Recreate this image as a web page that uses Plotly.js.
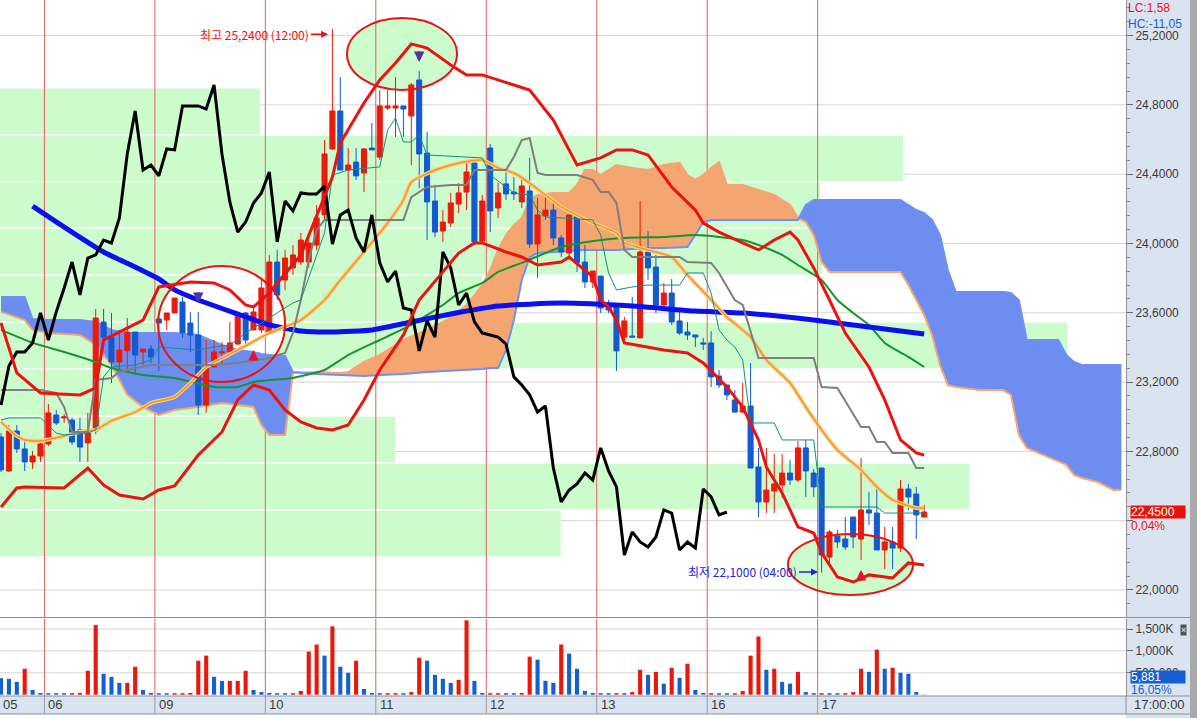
<!DOCTYPE html>
<html><head><meta charset="utf-8">
<script src="https://cdn.plot.ly/plotly-3.0.1.min.js"></script>
<style>html,body{margin:0;padding:0;background:#fff;overflow:hidden}#chart{width:1197px;height:718px}</style>
</head><body><div id="chart"></div>
<script>
// ---------------- DATA ----------------
const firstDayLabel = '05';
const dayLabels = ['06','09','10','11','12','13','16','17'];
const dayStart  = [6,20,34,48,62,76,90,104];
const lastTime = '17:00:00';

const openP  = [22.883,22.687,22.918,22.814,22.739,22.773,22.843,23.010,22.993,22.981,22.924,22.849,22.918,23.547,23.460,23.316,23.380,23.489,23.374,23.391,
23.564,23.558,23.599,23.662,23.541,23.472,23.068,23.287,23.368,23.374,23.420,23.599,23.501,23.501,23.489,23.893,23.789,23.859,23.893,23.893,
23.991,24.165,24.546,24.765,24.424,24.470,24.407,24.551,24.499,24.782,24.782,24.794,24.736,24.944,24.522,24.245,24.072,24.118,24.228,24.297,
24.465,24.014,24.551,24.205,24.344,24.297,24.240,24.303,23.997,24.159,24.193,24.032,23.945,24.165,23.893,23.778,23.812,23.634,23.634,23.460,
23.466,23.455,23.951,23.864,23.645,23.714,23.553,23.489,23.472,23.426,23.426,23.235,23.183,23.097,23.027,23.062,22.710,22.508,22.571,22.606,
22.675,22.635,22.820,22.675,22.704,22.190,22.312,22.294,22.421,22.294,22.462,22.444,22.231,22.277,22.242,22.583,22.554,22.421];
const highP  = [22.906,22.952,22.952,22.860,22.802,22.872,23.074,23.039,23.016,22.993,22.993,23.022,23.622,23.622,23.599,23.501,23.570,23.489,23.391,23.414,
23.576,23.599,23.685,23.691,23.605,23.605,23.443,23.443,23.431,23.547,23.605,23.605,23.645,23.789,23.934,23.963,23.963,23.991,24.061,24.038,
24.222,24.597,25.240,24.961,24.551,24.551,24.551,24.696,24.886,24.886,24.961,24.794,24.926,24.996,24.644,24.338,24.193,24.292,24.349,24.482,
24.482,24.280,24.574,24.349,24.424,24.384,24.384,24.494,24.263,24.286,24.234,24.049,24.165,24.165,23.991,23.841,23.812,23.674,23.634,23.576,
23.691,24.245,24.072,23.934,23.772,23.795,23.616,23.547,23.472,23.455,23.495,23.270,23.183,23.154,23.195,23.310,22.820,22.820,22.785,22.785,
22.750,22.860,22.866,22.698,22.704,22.346,22.346,22.421,22.421,22.762,22.566,22.606,22.364,22.364,22.635,22.612,22.595,22.491];
const lowP   = [22.681,22.681,22.791,22.687,22.698,22.739,22.831,22.952,22.964,22.837,22.739,22.739,22.900,23.414,23.195,23.270,23.270,23.241,23.299,23.310,
23.264,23.501,23.599,23.455,23.374,23.010,23.022,23.287,23.299,23.374,23.414,23.414,23.501,23.483,23.472,23.674,23.732,23.818,23.876,23.859,
23.963,24.136,24.540,24.424,24.193,24.367,24.297,24.540,24.482,24.771,24.615,24.615,24.453,24.320,24.020,24.038,24.009,24.095,24.176,24.193,
23.991,24.009,24.066,24.147,24.251,24.251,24.205,23.974,23.801,24.136,23.991,23.922,23.905,23.836,23.743,23.743,23.599,23.599,23.264,23.443,
23.460,23.455,23.789,23.599,23.634,23.530,23.472,23.443,23.403,23.385,23.172,23.166,23.097,23.022,23.022,22.704,22.421,22.444,22.444,22.531,
22.606,22.623,22.537,22.537,22.100,22.144,22.242,22.231,22.242,22.173,22.375,22.231,22.121,22.121,22.219,22.462,22.294,22.421];
const closeP = [22.693,22.918,22.814,22.739,22.773,22.843,23.022,22.964,22.999,22.854,22.825,22.924,23.570,23.460,23.316,23.385,23.489,23.356,23.391,23.345,
23.541,23.599,23.685,23.483,23.472,23.068,23.293,23.374,23.374,23.426,23.599,23.443,23.605,23.743,23.893,23.703,23.916,23.934,24.020,24.003,
24.147,24.517,24.765,24.424,24.453,24.390,24.546,24.540,24.794,24.794,24.794,24.776,24.915,24.517,24.240,24.066,24.124,24.234,24.292,24.413,
24.009,24.245,24.188,24.292,24.286,24.286,24.332,23.997,24.165,24.193,24.032,23.951,24.165,23.888,23.778,23.841,23.628,23.616,23.380,23.553,
23.460,23.951,23.859,23.645,23.714,23.547,23.483,23.472,23.460,23.420,23.230,23.183,23.126,23.027,23.062,22.704,22.508,22.577,22.612,22.675,
22.635,22.820,22.687,22.595,22.202,22.335,22.277,22.248,22.306,22.462,22.444,22.231,22.277,22.242,22.583,22.537,22.433,22.450];

const volume = [378000,362000,293000,592000,108000,39000,
35000,35000,35000,35000,40000,546000,1590000,477000,408000,270000,270000,638000,108000,39000,
35000,35000,35000,35000,40000,776000,892000,408000,316000,316000,316000,546000,108000,60000,
39000,35000,35000,35000,85000,984000,1145000,892000,1560000,638000,500000,776000,131000,39000,
35000,35000,35000,35000,60000,845000,776000,454000,362000,270000,339000,1698000,316000,39000,
35000,35000,35000,35000,40000,869000,800000,316000,270000,1145000,938000,592000,85000,39000,
35000,35000,35000,35000,60000,569000,454000,523000,253000,615000,385000,707000,108000,39000,
35000,35000,35000,35000,85000,892000,1330000,569000,592000,293000,253000,523000,60000,35000,
35000,35000,35000,35000,60000,592000,523000,1030000,592000,615000,500000,477000,60000,5881];
const volumeDir = ('DDDUDD'+'DDDUUUUDDDUUDD'+'DDUUUUUDDUUUDD'+'DDDUUUUDUDDUDD'+'DUUDUUDDDDUUDD'+
  'UUDDUUDDDUDDDD'+'DDUDUUDUDUDUDD'+'UDDUUUUDUDDUDD'+'UDDUUUDUDUDDDD').split('');

// moving averages / bands (bar index, price)
const bbUpperIdx = [0,2,5,10,12,13,18,20,24,27,29,31,32,34,35,38,42,43,46,48,50,52,54,57,59,61,65,67,70,73,76,78,80,82,85,88,89,91,94,96,98,100,101,103,105,107,110,112,114,116,117];
const bbUpperVal = [23.541,23.253,23.137,23.126,23.166,23.443,23.558,23.749,23.778,23.772,23.732,23.645,23.634,23.714,23.772,23.934,24.384,24.580,24.811,24.944,25.042,25.152,25.128,25.030,24.973,24.973,24.915,24.886,24.713,24.453,24.494,24.540,24.540,24.511,24.326,24.193,24.118,24.066,24.003,23.963,24.020,24.066,24.020,23.859,23.674,23.483,23.287,23.097,22.866,22.791,22.779];
const bbLowerIdx = [0,2,3,8,11,13,15,18,20,22,25,28,30,32,34,36,38,40,42,44,46,48,51,53,56,58,60,61,64,66,68,71,72,75,76,77,78,79,84,87,89,92,94,96,97,99,101,103,104,106,108,110,113,115,117];
const bbLowerVal = [22.479,22.589,22.595,22.589,22.704,22.606,22.548,22.525,22.577,22.600,22.779,22.912,23.097,23.183,23.154,23.039,22.970,22.935,22.924,22.952,23.097,23.270,23.472,23.674,23.836,23.945,24.003,24.003,23.951,23.922,23.876,23.893,23.922,23.807,23.674,23.634,23.558,23.426,23.385,23.368,23.310,23.172,23.056,22.866,22.710,22.560,22.364,22.329,22.214,22.075,22.046,22.087,22.069,22.156,22.144];
const maLongIdx = [4,8,13,17,20,22,25,30,34,38,42,47,52,57,63,71,80,88,94,103,110,117];
const maLongVal = [24.216,24.095,23.951,23.864,23.795,23.732,23.674,23.593,23.530,23.495,23.489,23.501,23.547,23.593,23.639,23.656,23.639,23.610,23.599,23.558,23.518,23.478];
const maMidIdx = [0,4,8,12,14,18,22,27,30,32,37,41,44,48,52,56,58,61,63,66,69,71,75,79,84,88,91,94,96,99,101,104,106,108,110,112,115,117];
const maMidVal = [23.501,23.426,23.374,23.316,23.281,23.241,23.224,23.172,23.172,23.201,23.224,23.270,23.356,23.443,23.530,23.645,23.714,23.772,23.836,23.888,23.945,23.980,24.014,24.032,24.038,24.049,24.038,24.020,23.991,23.934,23.876,23.789,23.674,23.599,23.530,23.426,23.345,23.287];
const maShortIdx = [0,2,3,5,7,10,12,14,17,19,22,24,26,30,34,38,41,43,46,49,51,52,55,58,61,63,65,67,69,71,75,78,79,82,85,87,90,92,95,97,100,102,104,106,109,111,113,116,117];
const maShortVal = [22.970,22.889,22.866,22.860,22.878,22.912,22.924,22.976,23.027,23.079,23.114,23.195,23.287,23.385,23.483,23.558,23.674,23.789,23.951,24.118,24.251,24.355,24.424,24.465,24.482,24.436,24.407,24.349,24.280,24.211,24.118,24.061,24.003,23.963,23.922,23.818,23.674,23.576,23.460,23.328,23.195,23.056,22.924,22.808,22.693,22.595,22.520,22.473,22.473];

// ichimoku
const kijunIdx = [0,5,7,8,9,11,12,14,15,17,19,27,30,34,36,37,38,39,40,41,51,52,54,57,59,60,64,65,66,67,68,69,73,75,76,77,78,79,80,86,87,90,91,93,94,96,103,104,106,109,110,111,112,113,115,116,117];
const kijunVal = [23.154,23.154,23.137,23.056,22.912,22.912,23.212,23.224,23.258,23.281,23.299,23.299,23.310,23.339,23.368,23.483,23.674,23.905,24.078,24.136,24.136,24.268,24.326,24.338,24.338,24.424,24.424,24.499,24.597,24.609,24.407,24.395,24.395,24.367,24.297,24.297,24.234,23.963,23.922,23.922,23.893,23.888,23.830,23.674,23.645,23.339,23.339,23.172,23.166,22.941,22.941,22.854,22.854,22.791,22.791,22.704,22.704];
const tenkanIdx = [0,1,5,7,8,11,12,13,14,17,19,20,25,27,29,31,35,37,38,41,42,44,48,49,50,51,52,53,54,58,61,62,65,67,68,69,75,76,77,78,80,82,86,87,89,90,91,92,93,94,95,98,99,103,104,111,112,117];
const tenkanVal = [22.981,22.993,22.993,22.906,22.895,22.906,22.924,23.230,23.287,23.299,23.328,23.403,23.385,23.403,23.414,23.483,23.599,23.657,23.674,24.061,24.395,24.424,24.442,24.655,24.724,24.586,24.586,24.626,24.511,24.499,24.494,24.395,24.292,24.280,24.193,24.153,24.136,24.049,23.830,23.732,23.749,23.760,23.760,23.830,23.830,23.714,23.501,23.443,23.403,23.328,22.964,22.964,22.866,22.866,22.479,22.479,22.444,22.444];
const chikouShift = 25;
const cloudIdx = [0,3,4,6,10,12,14,16,18,20,22,25,28,30,32,33,34,36,37,40,43,44,46,48,51,54,57,59,61,62,63,64,65,66,67,68,70,72,73,74,75,76,78,80,82,84,86,87,88,89,90,91,92,94,96,98,100,101,102,103,104,105,108,111,114,115,116,117,118,119,120,121,124,127,128,129,130,132,134,135,136,137,139,141,142];
const spanA = [23.691,23.691,23.564,23.558,23.558,23.547,23.501,23.483,23.483,23.483,
23.483,23.472,23.414,23.385,23.374,23.362,23.356,23.351,23.258,23.247,
23.241,23.235,23.235,23.241,23.247,23.258,23.264,23.270,23.276,23.281,
23.281,23.385,23.558,23.789,23.922,23.945,23.951,23.957,23.963,23.963,
23.963,23.963,23.963,23.968,23.974,23.974,23.980,23.980,24.049,24.124,
24.136,24.136,24.136,24.136,24.136,24.136,24.136,24.136,24.222,24.251,
24.251,24.251,24.251,24.251,24.251,24.222,24.193,24.176,24.136,24.049,
23.847,23.720,23.720,23.720,23.714,23.674,23.443,23.443,23.443,23.356,
23.316,23.299,23.299,23.299,23.299];
const spanB = [23.605,23.558,23.501,23.483,23.472,23.414,23.299,23.126,23.056,23.010,
23.039,23.056,23.079,23.068,23.056,22.952,22.895,22.895,23.253,23.258,
23.253,23.258,23.316,23.356,23.443,23.501,23.570,23.645,23.760,23.847,
23.963,24.049,24.107,24.147,24.251,24.280,24.292,24.292,24.338,24.424,
24.424,24.395,24.453,24.436,24.424,24.453,24.465,24.395,24.367,24.395,
24.436,24.470,24.338,24.338,24.309,24.280,24.222,24.147,24.124,24.049,
23.893,23.836,23.836,23.836,23.836,23.760,23.674,23.587,23.472,23.299,
23.183,23.172,23.154,23.154,23.126,22.895,22.820,22.779,22.739,22.722,
22.664,22.646,22.623,22.577,22.577];

// volume-at-price profile (price bin edges, relative volume in % of pane width)
const profileEdges = [24.898,24.626,24.357,24.089,23.818,23.547,23.276,23.004,22.733,22.462,22.190];
const profileVol   = [23.1,80.2,72.8,73.0,42.8,94.8,25.8,35.1,86.1,49.8];

const priceTicks = [22.0,22.4,22.8,23.2,23.6,24.0,24.4,24.8,25.2];
const hiddenPriceLabels = [22.4];
const volTicks = [500000,1000000,1500000];
const volTickText = ['500,000','1,000K','1,500K'];

const hiMark = {idx:42, price:25.24, label:'최고 25,2400 (12:00)'};
const loMark = {idx:104, price:22.10, label:'최저 22,1000 (04:00)'};
const lastPrice = '22,4500', lastChange = '0,04%';
const lastVolume = '5,881', lastVolRatio = '16,05%';
const hcLc = ['LC:1,58','HC:-11,05'];
const sellSignals = [{idx:53, price:25.048},{idx:25, price:23.657}];
const buySignals  = [{idx:32, price:23.385},{idx:109, price:22.115}];

// ---------------- BUILD ----------------
const RED='#ec1a0e', BLUE='#1459d0';
const PR=[21.844,25.4055], VR=[-29680,1728300];
const idx = openP.map((_,i)=>i);

const traces=[];
(function(){
  const runs=[]; let cur=null;
  for(let k=0;k<cloudIdx.length;k++){
    const x=cloudIdx[k],a=spanA[k],b=spanB[k],s=a>=b?1:-1;
    if(!cur){cur={s,x:[x],a:[a],b:[b]};continue;}
    if(s!==cur.s){
      const x0=cloudIdx[k-1],a0=spanA[k-1],b0=spanB[k-1];
      const d0=a0-b0,d1=a-b,t=d0/(d0-d1);
      const xc=x0+t*(x-x0),yc=a0+t*(a-a0);
      cur.x.push(xc);cur.a.push(yc);cur.b.push(yc);runs.push(cur);
      cur={s,x:[xc,x],a:[yc,a],b:[yc,b]};
    } else {cur.x.push(x);cur.a.push(a);cur.b.push(b);}
  }
  runs.push(cur);
  runs.forEach(r=>{
    traces.push({type:'scatter',mode:'lines',x:r.x,y:r.b,line:{width:0},hoverinfo:'skip',xaxis:'x',yaxis:'y'});
    traces.push({type:'scatter',mode:'lines',x:r.x,y:r.a,line:{width:0},fill:'tonexty',
      fillcolor:r.s>0?'#6d8ef0':'#f5a570',hoverinfo:'skip',xaxis:'x',yaxis:'y'});
  });
  traces.push({type:'scatter',mode:'lines',x:cloudIdx,y:spanB,line:{color:'#f6a472',width:2},hoverinfo:'skip',xaxis:'x',yaxis:'y'});
  traces.push({type:'scatter',mode:'lines',x:cloudIdx,y:spanA,line:{color:'#6f90f2',width:2},hoverinfo:'skip',xaxis:'x',yaxis:'y'});
})();

traces.push({type:'bar',x:idx,y:volume,width:0.52,marker:{color:volumeDir.map(d=>d==='U'?'#e8180c':'#1560d0'),line:{width:0}},
  hoverinfo:'skip',xaxis:'x',yaxis:'y2'});

traces.push({type:'candlestick',x:idx,open:openP,high:highP,low:lowP,close:closeP,whiskerwidth:0,
  increasing:{line:{color:RED,width:1},fillcolor:RED},decreasing:{line:{color:BLUE,width:1},fillcolor:BLUE},
  hoverinfo:'skip',xaxis:'x',yaxis:'y3'});

function ln(x,y,color,width,shape){return {type:'scatter',mode:'lines',x,y,line:{color,width,shape:shape||'linear',smoothing:0.5},hoverinfo:'skip',xaxis:'x',yaxis:'y4'};}
traces.push(ln(maMidIdx,maMidVal,'#14962e',2,'spline'));
traces.push(ln(maLongIdx,maLongVal,'#0a10f2',5,'spline'));
traces.push(ln(maShortIdx,maShortVal,'#ffc79c',4,'spline'));
traces.push(ln(maShortIdx,maShortVal,'#eea000',1.5,'spline'));
traces.push(ln(kijunIdx,kijunVal,'#7f7f7f',2));
traces.push(ln(tenkanIdx,tenkanVal,'#109080',1));
const chX=[],chY=[];
for(let i=chikouShift;i<closeP.length;i++){chX.push(i-chikouShift);chY.push(closeP[i]);}
traces.push(ln(chX,chY,'#000000',3));
traces.push(ln(bbUpperIdx,bbUpperVal,'#ee1111',3));
traces.push(ln(bbLowerIdx,bbLowerVal,'#ee1111',3));

// ---------------- SHAPES ----------------
const W=1126,H=696;
const px=(p)=>p/W, py=(p)=>(H-p)/H;
const shapes=[];
const below=(o)=>shapes.push(Object.assign({layer:'below',line:{width:0}},o));
below({type:'rect',xref:'paper',yref:'paper',x0:1,x1:px(1190),y0:py(718),y1:1,fillcolor:'#dae4f1'});
below({type:'rect',xref:'paper',yref:'paper',x0:px(1190),x1:px(1197),y0:py(718),y1:1,fillcolor:'#a9a9a9'});
below({type:'rect',xref:'paper',yref:'paper',x0:0,x1:1,y0:py(714),y1:0,fillcolor:'#dae4f1'});
priceTicks.forEach(v=>below({type:'line',xref:'paper',yref:'y',x0:0,x1:1,y0:v,y1:v,line:{color:'#d4d4d4',width:1}}));
volTicks.forEach(v=>below({type:'line',xref:'paper',yref:'y2',x0:0,x1:1,y0:v,y1:v,line:{color:'#d4d4d4',width:1}}));
profileVol.forEach((v,k)=>below({type:'rect',xref:'paper',yref:'y',x0:0,x1:v/100,
  y0:profileEdges[k+1]+0.004,y1:profileEdges[k]-0.004,fillcolor:'#ccfccc'}));
dayStart.forEach(d=>below({type:'line',xref:'x',yref:'paper',x0:d-0.5,x1:d-0.5,y0:py(714),y1:0,line:{color:'#9a9a9a',width:1}}));
const ellipses=[
  {x0:43.85,x1:57.79,y0:24.886,y1:25.302,fill:'#ccfccc'},
  {x0:19.9,x1:36.0,y0:23.201,y1:23.870,fill:'#ffffff'},
  {x0:99.74,x1:115.59,y0:21.971,y1:22.323,fill:'#ccfccc'}];
ellipses.forEach(e=>below({type:'circle',xref:'x',yref:'y',x0:e.x0,x1:e.x1,y0:e.y0,y1:e.y1,fillcolor:e.fill}));
dayStart.forEach(d=>{
  below({type:'line',xref:'x',yref:'y',x0:d-0.5,x1:d-0.5,y0:PR[0],y1:PR[1],line:{color:'#e06060',width:1}});
  below({type:'line',xref:'x',yref:'y2',x0:d-0.5,x1:d-0.5,y0:VR[0],y1:VR[1],line:{color:'#e06060',width:1}});
});
[617.5,696,714].forEach(y=>shapes.push({type:'line',xref:'paper',yref:'paper',x0:0,x1:px(1190),y0:py(y),y1:py(y),line:{color:'#8f8f8f',width:1},layer:'above'}));
shapes.push({type:'line',xref:'paper',yref:'paper',x0:1,x1:1,y0:py(714),y1:0,line:{color:'#8f8f8f',width:1},layer:'above'});
ellipses.forEach(e=>shapes.push({type:'circle',xref:'x',yref:'y',x0:e.x0,x1:e.x1,y0:e.y0,y1:e.y1,layer:'above',fillcolor:'rgba(0,0,0,0)',line:{color:'#e81414',width:2}}));

// ---------------- ANNOTATIONS ----------------
const ann=[];
const lab={family:'Liberation Sans, Arial, sans-serif',size:13,color:'#3a3a3a'};
ann.push({xref:'paper',yref:'paper',x:0.001,y:py(704),xanchor:'left',yanchor:'middle',text:firstDayLabel,showarrow:false,font:lab});
dayLabels.forEach((t,k)=>ann.push({xref:'x',yref:'paper',x:dayStart[k]-0.5+0.25,y:py(704),xanchor:'left',yanchor:'middle',text:t,showarrow:false,font:lab}));
ann.push({xref:'paper',yref:'paper',x:px(1132),y:py(704),xanchor:'left',yanchor:'middle',text:lastTime,showarrow:false,font:lab});
ann.push({xref:'paper',yref:'y',x:px(1130),y:22.45,xanchor:'left',yanchor:'middle',text:lastPrice,showarrow:false,
  bgcolor:'#e8140c',width:54,height:12,align:'left',borderpad:0,font:{size:12,color:'#ffffff'}});
ann.push({xref:'paper',yref:'y',x:px(1130),y:22.45,yshift:-13,xanchor:'left',yanchor:'middle',text:lastChange,showarrow:false,
  width:54,height:11,align:'left',borderpad:0,font:{size:12,color:'#e8140c'}});
ann.push({xref:'paper',yref:'paper',x:px(1130),y:py(677),xanchor:'left',yanchor:'middle',text:lastVolume,showarrow:false,
  bgcolor:'#1560d0',width:54,height:12,align:'left',borderpad:0,font:{size:12,color:'#ffffff'}});
ann.push({xref:'paper',yref:'paper',x:px(1130),y:py(689),xanchor:'left',yanchor:'middle',text:lastVolRatio,showarrow:false,
  width:54,height:11,align:'left',borderpad:0,font:{size:12,color:'#1560d0'}});
ann.push({xref:'paper',yref:'paper',x:px(1127),y:1,xanchor:'left',yanchor:'top',align:'left',borderpad:0,showarrow:false,
  text:'<span style="color:#e8140c">'+hcLc[0]+'</span><br><span style="color:#1560d0">'+hcLc[1]+'</span>',font:{size:12}});
ann.push({xref:'paper',yref:'paper',x:px(1183),y:py(630),xanchor:'center',yanchor:'middle',text:'×',showarrow:false,bgcolor:'#555555',borderpad:0,font:{size:9,color:'#ffffff'}});
ann.push({xref:'x',yref:'y',x:hiMark.idx-0.55,y:hiMark.price-0.032,text:hiMark.label,showarrow:true,ax:-17,ay:0,xanchor:'right',
  arrowhead:2,arrowsize:1,arrowwidth:1.4,arrowcolor:'#ee1111',standoff:0,font:{family:'Noto Sans CJK KR',size:12,color:'#ee1111'}});
ann.push({xref:'x',yref:'y',x:loMark.idx-0.45,y:loMark.price+0.004,text:loMark.label,showarrow:true,ax:-19,ay:0,xanchor:'right',
  arrowhead:2,arrowsize:1,arrowwidth:1.4,arrowcolor:'#2222dd',standoff:0,font:{family:'Noto Sans CJK KR',size:12,color:'#2222dd'}});
sellSignals.forEach(s=>ann.push({xref:'x',yref:'y',x:s.idx,y:s.price,text:'',showarrow:true,ax:0,ay:-12,arrowhead:2,arrowsize:0.6,arrowwidth:3.5,arrowcolor:'#55309f'}));
buySignals.forEach(s=>ann.push({xref:'x',yref:'y',x:s.idx,y:s.price,text:'',showarrow:true,ax:0,ay:12,arrowhead:2,arrowsize:0.6,arrowwidth:3.5,arrowcolor:'#e8102a'}));

const tf={family:'Liberation Sans, Arial, sans-serif',size:12,color:'#3a3a3a'};
const priceText=priceTicks.map(v=>hiddenPriceLabels.includes(v)?'':v.toFixed(4).replace('.',','));
const layout={
  width:1197,height:718,margin:{l:0,r:71,t:0,b:22,pad:0},
  paper_bgcolor:'#ffffff',plot_bgcolor:'#ffffff',showlegend:false,
  font:{family:'Liberation Sans, Arial, sans-serif',size:12,color:'#333'},
  boxgap:0.2,boxgroupgap:0.2,
  xaxis:{range:[-0.13,142.58],showgrid:false,zeroline:false,showticklabels:false,ticks:'',showline:false,
    rangeslider:{visible:false},fixedrange:true,anchor:'y2'},
  yaxis:{domain:[py(617),1],range:PR,side:'right',anchor:'x',showgrid:false,zeroline:false,
    tickmode:'array',tickvals:priceTicks,ticktext:priceText,ticks:'outside',ticklen:6,tickcolor:'#666',
    showline:true,linecolor:'#8f8f8f',tickfont:tf,fixedrange:true,
    minor:{tickmode:'linear',tick0:22,dtick:0.08,ticks:'outside',ticklen:3,tickcolor:'#888',showgrid:false}},
  yaxis2:{domain:[0,py(619)],range:VR,side:'right',anchor:'x',showgrid:false,zeroline:false,
    tickmode:'array',tickvals:volTicks,ticktext:volTickText,ticks:'outside',ticklen:6,tickcolor:'#666',
    showline:true,linecolor:'#8f8f8f',tickfont:tf,fixedrange:true},
  yaxis3:{overlaying:'y',range:PR,visible:false,anchor:'x',fixedrange:true},
  yaxis4:{overlaying:'y',range:PR,visible:false,anchor:'x',fixedrange:true},
  shapes,annotations:ann
};
Plotly.newPlot('chart',traces,layout,{staticPlot:true,displayModeBar:false});
</script></body></html>
